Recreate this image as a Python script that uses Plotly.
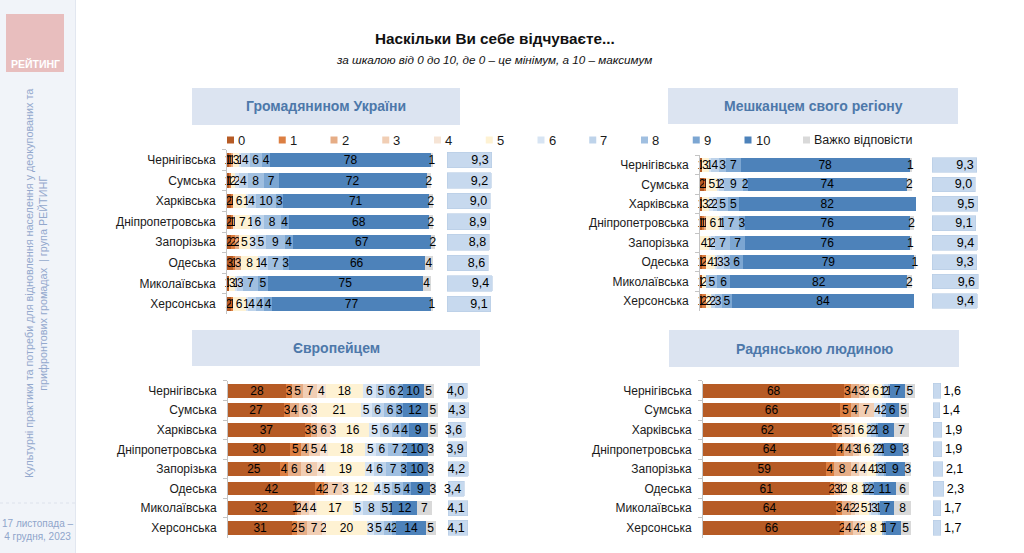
import plotly.graph_objects as go

# ---------------- data ----------------
regions = ["Чернігівська", "Сумська", "Харківська", "Дніпропетровська",
           "Запорізька", "Одеська", "Миколаївська", "Херсонська"]
scale_labels = ["0", "1", "2", "3", "4", "5", "6", "7", "8", "9", "10", "Важко відповісти"]

# shares (%) for scores 0..10 and "Важко відповісти", per region
citizen_ua = [
    [1, 1, 1, 0, 0, 3, 1, 4, 6, 4, 78, 1],
    [1, 1, 0, 0, 0, 2, 2, 4, 8, 7, 72, 2],
    [2, 1, 0, 0, 0, 6, 1, 4, 10, 3, 71, 2],
    [2, 1, 0, 0, 1, 7, 1, 6, 8, 4, 68, 2],
    [2, 2, 2, 0, 0, 5, 3, 5, 9, 4, 67, 2],
    [3, 1, 3, 0, 0, 8, 1, 4, 7, 3, 66, 4],
    [1, 0, 0, 0, 0, 3, 1, 3, 7, 5, 75, 4],
    [2, 1, 0, 0, 0, 6, 1, 4, 4, 4, 77, 1],
]
citizen_ua_mean = [9.3, 9.2, 9.0, 8.9, 8.8, 8.6, 9.4, 9.1]

resident_region = [
    [1, 0, 0, 0, 0, 3, 1, 4, 3, 7, 78, 1],
    [2, 1, 0, 0, 0, 5, 1, 2, 9, 2, 74, 2],
    [1, 0, 0, 0, 0, 3, 2, 2, 5, 5, 82, 0],
    [1, 1, 1, 0, 0, 6, 1, 1, 7, 3, 76, 2],
    [0, 0, 0, 0, 0, 4, 1, 2, 7, 7, 76, 1],
    [1, 2, 0, 0, 0, 4, 1, 3, 3, 6, 79, 1],
    [1, 0, 0, 0, 0, 2, 0, 0, 5, 6, 82, 2],
    [1, 2, 0, 0, 0, 2, 0, 2, 3, 5, 84, 0],
]
resident_region_mean = [9.3, 9.0, 9.5, 9.1, 9.4, 9.3, 9.6, 9.4]

european = [
    [28, 3, 5, 7, 4, 18, 6, 5, 6, 2, 10, 5],
    [27, 3, 4, 6, 3, 21, 5, 6, 6, 3, 12, 5],
    [37, 3, 3, 6, 3, 16, 5, 6, 4, 4, 9, 5],
    [30, 5, 4, 5, 4, 18, 5, 6, 7, 2, 10, 3],
    [25, 4, 6, 8, 4, 19, 4, 6, 7, 3, 10, 3],
    [42, 4, 2, 7, 3, 12, 4, 5, 5, 4, 9, 3],
    [32, 1, 2, 4, 4, 17, 5, 8, 5, 1, 12, 7],
    [31, 2, 5, 7, 2, 20, 3, 5, 4, 2, 14, 5],
]
european_mean = [4.0, 4.3, 3.6, 3.9, 4.2, 3.4, 4.1, 4.1]

soviet = [
    [68, 3, 4, 3, 2, 6, 1, 2, 1, 0, 7, 5],
    [66, 5, 4, 7, 0, 0, 4, 0, 2, 0, 6, 5],
    [62, 3, 2, 5, 1, 6, 0, 2, 2, 1, 8, 7],
    [64, 4, 4, 3, 1, 6, 0, 2, 2, 1, 9, 3],
    [59, 4, 8, 4, 4, 4, 0, 1, 3, 1, 9, 3],
    [61, 2, 3, 1, 2, 8, 0, 1, 2, 2, 11, 6],
    [64, 3, 4, 2, 2, 5, 1, 3, 1, 0, 7, 8],
    [66, 2, 4, 4, 2, 8, 0, 0, 1, 1, 7, 5],
]
soviet_mean = [1.6, 1.4, 1.9, 1.9, 2.1, 2.3, 1.7, 1.7]

panel_titles = ["Громадянином України", "Мешканцем свого регіону", "Європейцем", "Радянською людиною"]
title_text = "Наскільки Ви себе відчуваєте..."
subtitle_text = "за шкалою від 0 до 10, де 0 – це мінімум, а 10 – максимум"
side_text = ("Культурні практики та потреби для відновлення населення у деокупованих та"
             "<br>прифронтових громадах  | група РЕЙТИНГ")
date_text = "17 листопада –<br>4 грудня, 2023"
logo_text = "РЕЙТИНГ"

# ---------------- style ----------------
colors = ["#B65B25", "#DC7F42", "#E6AD86", "#F1CEB4", "#F6E4D5", "#FEF2D3",
          "#D7E4F3", "#BED3EA", "#A0BFE0", "#7CA6D2", "#4D82BA", "#D9D9D9"]
mean_color = "#C7D9EE"
FONT = "Liberation Sans, Arial, sans-serif"
W, H = 1024, 553


def fx(x):
    return x / W


def fy(y):
    return 1 - y / H


# geometry per panel: bar start, px per 100 %, top, bottom, mean start, px per 10, header rect
geo = [
    dict(bx=227, bw=206, top=149.7, bot=314.3, mx=447, mw=48, hdr=(192, 88, 460, 125)),
    dict(bx=700, bw=216, top=155.3, bot=310.7, mx=932, mw=48, hdr=(668, 88, 958, 124)),
    dict(bx=228, bw=208, top=380.9, bot=537.5, mx=448, mw=48, hdr=(192, 330, 480, 366)),
    dict(bx=703, bw=208, top=380.9, bot=537.5, mx=933, mw=47, hdr=(669, 330, 959, 367)),
]
datasets = [citizen_ua, resident_region, european, soviet]
means = [citizen_ua_mean, resident_region_mean, european_mean, soviet_mean]

fig = go.Figure()
layout_axes = {}
shapes = []
annotations = []

for p in range(4):
    g = geo[p]
    n_main = 2 * p + 1
    n_mean = 2 * p + 2
    xa_main, ya_main = f"x{n_main}", f"y{n_main}"
    xa_mean, ya_mean = f"x{n_mean}", f"y{n_mean}"
    data = datasets[p]
    for k in range(12):
        vals = [row[k] for row in data]
        fig.add_trace(go.Bar(
            y=regions, x=vals, orientation="h",
            marker=dict(color=colors[k], line=dict(width=0)),
            text=[str(v) if v > 0 else "" for v in vals],
            textposition="inside", insidetextanchor="middle", textangle=0,
            constraintext="none",
            insidetextfont=dict(color="#000000", size=12, family=FONT),
            width=0.7, xaxis=xa_main, yaxis=ya_main, showlegend=False,
            name=scale_labels[k], cliponaxis=False,
        ))
    mvals = means[p]
    fig.add_trace(go.Bar(
        y=regions, x=mvals, orientation="h",
        marker=dict(color=mean_color, line=dict(width=0.6, color="#B5CBE5")),
        text=[f"{m:.1f}".replace(".", ",") for m in mvals],
        textposition="outside" if p == 3 else "inside",
        insidetextanchor="end", textangle=0, constraintext="none",
        textfont=dict(color="#000000", size=12.5, family=FONT),
        width=0.76, xaxis=xa_mean, yaxis=ya_mean, showlegend=False,
        cliponaxis=False,
    ))
    ydom = [fy(g["bot"]), fy(g["top"])]
    layout_axes[f"xaxis{n_main}"] = dict(
        domain=[fx(g["bx"]), fx(g["bx"] + g["bw"] * 1.03)], range=[0, 103],
        visible=False, anchor=ya_main, fixedrange=True)
    layout_axes[f"yaxis{n_main}"] = dict(
        domain=ydom, anchor=xa_main, type="category",
        categoryorder="array", categoryarray=regions, autorange="reversed",
        showline=True, linecolor="#C4C4C4", linewidth=1,
        ticks="outside", tickson="boundaries", ticklen=4, tickcolor="#C4C4C4",
        tickfont=dict(size=12, color="#1A1A1A", family=FONT),
        ticklabelstandoff=8, showgrid=False, zeroline=False, fixedrange=True)
    layout_axes[f"xaxis{n_mean}"] = dict(
        domain=[fx(g["mx"]), fx(g["mx"] + g["mw"])], range=[0, 10],
        visible=False, anchor=ya_mean, fixedrange=True)
    layout_axes[f"yaxis{n_mean}"] = dict(
        domain=ydom, anchor=xa_mean, type="category",
        categoryorder="array", categoryarray=regions, autorange="reversed",
        visible=False, fixedrange=True)
    # header box
    x0, y0, x1, y1 = g["hdr"]
    shapes.append(dict(type="rect", xref="paper", yref="paper",
                       x0=fx(x0), x1=fx(x1), y0=fy(y1), y1=fy(y0),
                       fillcolor="#DCE4F1", line=dict(width=0), layer="below"))
    annotations.append(dict(xref="paper", yref="paper", x=fx((x0 + x1) / 2), y=fy((y0 + y1) / 2),
                            text=f"<b>{panel_titles[p]}</b>", showarrow=False,
                            xanchor="center", yanchor="middle",
                            font=dict(size=14, color="#4D78AA", family=FONT)))

# legend (manual)
leg_x = [227 + i * 51.75 for i in range(11)] + [803]
leg_y = 140
for k in range(12):
    shapes.append(dict(type="rect", xref="paper", yref="paper",
                       x0=fx(leg_x[k]), x1=fx(leg_x[k] + 7), y0=fy(leg_y + 3.5), y1=fy(leg_y - 3.5),
                       fillcolor=colors[k], line=dict(width=0)))
    annotations.append(dict(xref="paper", yref="paper", x=fx(leg_x[k] + 9), y=fy(leg_y),
                            text=scale_labels[k], showarrow=False, xanchor="left", yanchor="middle",
                            font=dict(size=13 if k < 11 else 12.5, color="#1A1A1A", family=FONT)))

# title
annotations.append(dict(xref="paper", yref="paper", x=fx(495), y=fy(38), text=f"<b>{title_text}</b>",
                        showarrow=False, xanchor="center", yanchor="middle",
                        font=dict(size=15.3, color="#111111", family=FONT)))
annotations.append(dict(xref="paper", yref="paper", x=fx(494), y=fy(59), text=f"<i>{subtitle_text}</i>",
                        showarrow=False, xanchor="center", yanchor="middle",
                        font=dict(size=11.7, color="#111111", family=FONT)))

# sidebar
shapes.append(dict(type="rect", xref="paper", yref="paper", x0=0, x1=fx(75), y0=0, y1=1,
                   fillcolor="#F1F4F9", line=dict(width=0), layer="below"))
shapes.append(dict(type="line", xref="paper", yref="paper", x0=fx(75.5), x1=fx(75.5), y0=0, y1=1,
                   line=dict(color="#E2E7F0", width=1)))
shapes.append(dict(type="line", xref="paper", yref="paper", x0=0, x1=fx(75), y0=fy(503), y1=fy(503),
                   line=dict(color="#DDE2EC", width=1, dash="dot")))
shapes.append(dict(type="rect", xref="paper", yref="paper", x0=fx(6), x1=fx(64), y0=fy(72), y1=fy(14),
                   fillcolor="#E8BEBE", line=dict(width=0)))
annotations.append(dict(xref="paper", yref="paper", x=fx(35), y=fy(64), text=f"<b>{logo_text}</b>",
                        showarrow=False, xanchor="center", yanchor="middle",
                        font=dict(size=10.5, color="#FFFFFF", family=FONT)))
annotations.append(dict(xref="paper", yref="paper", x=fx(36), y=fy(284), text=side_text,
                        showarrow=False, textangle=-90, xanchor="center", yanchor="middle",
                        align="center", font=dict(size=10.8, color="#93A8CD", family=FONT)))
annotations.append(dict(xref="paper", yref="paper", x=fx(37.5), y=fy(530), text=date_text,
                        showarrow=False, xanchor="center", yanchor="middle", align="center",
                        font=dict(size=10, color="#8FA5CB", family=FONT)))

fig.update_layout(
    width=W, height=H, margin=dict(l=0, r=0, t=0, b=0),
    paper_bgcolor="#FFFFFF", plot_bgcolor="rgba(0,0,0,0)",
    barmode="stack", showlegend=False,
    font=dict(family=FONT, size=12, color="#1A1A1A"),
    shapes=shapes, annotations=annotations,
    **layout_axes,
)

fig.write_html("out.html", config=dict(displayModeBar=False, staticPlot=True),
               post_script="document.body.style.margin='0';document.body.style.overflow='hidden';")
